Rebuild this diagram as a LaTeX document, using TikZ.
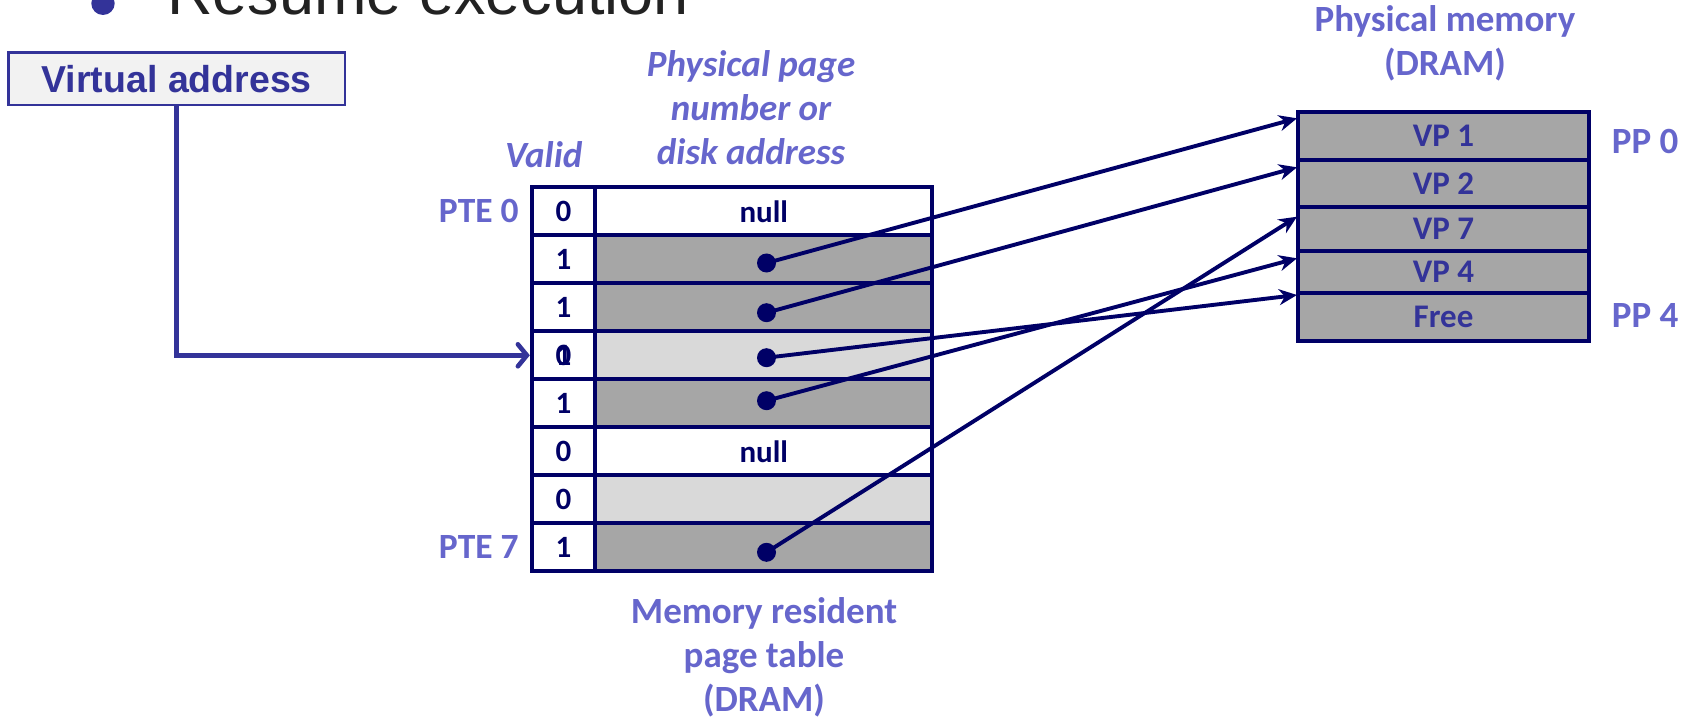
\documentclass[tikz,border=0pt]{standalone}
\usepackage{fontspec}
\setmainfont{Carlito}
\newfontfamily\arialfont{Liberation Sans}
\usetikzlibrary{arrows.meta,calc}

\definecolor{lbl}{RGB}{102,102,204}
\definecolor{vablue}{RGB}{51,51,153}
\definecolor{navy}{RGB}{0,0,102}
\definecolor{darkfill}{RGB}{166,166,166}
\definecolor{lightfill}{RGB}{217,217,217}
\definecolor{boxfill}{RGB}{242,242,242}
\definecolor{bodytext}{RGB}{34,34,34}

\begin{document}
\begin{tikzpicture}[x=1pt,y=-1pt,
  lbltext/.style={text=lbl,font=\fontsize{37}{44}\selectfont\bfseries,align=center,inner sep=0pt},
  lblit/.style={lbltext,font=\fontsize{37}{44}\selectfont\bfseries\itshape},
  cellbase/.style={draw=navy,line width=3.8pt,inner sep=0pt,minimum height=48pt,
    text=navy,font=\fontsize{31}{35}\selectfont\bfseries},
  validcell/.style={cellbase,fill=white,minimum width=63.5pt},
  pfncell/.style={cellbase,minimum width=336.9pt},
  memcell/.style={draw=navy,fill=darkfill,line width=3.8pt,inner sep=0pt,minimum width=291pt,
    text=vablue,font=\fontsize{33}{36}\selectfont\bfseries},
  ptrdot/.style={circle,fill=navy,inner sep=0pt,minimum size=19pt},
  ptr/.style={draw=navy,line width=3.9pt,-{Stealth[length=18pt,width=16pt]}},
  vaarrow/.style={draw=vablue,line width=4.6pt,-{Straight Barb[length=9pt,width=22pt,line cap=round]}}
]
\useasboundingbox (0,0) rectangle (1688,719);
\clip (0,0) rectangle (1688,719);

% slide bullet line (cut by the top edge)
\fill[vablue] (103,3.3) circle (11.7);
\node[anchor=base west,inner sep=0pt,text=bodytext,font=\arialfont\fontsize{63}{70}\selectfont]
  (resume) at (167,15) {Resume execution};

% virtual address box
\node[draw=vablue,fill=boxfill,line width=2.7pt,minimum width=336.5pt,minimum height=52.3pt,
  inner sep=0pt,text=vablue,font=\arialfont\fontsize{37.5}{40}\selectfont\bfseries]
  (va) at (176.75,78.85) {Virtual address};

% page table: valid bits
\node[validcell] (v0) at (563.5,211.3) {0};
\node[validcell] (v1) at (563.5,259.3) {1};
\node[validcell] (v2) at (563.5,307.3) {1};
\node[validcell] (v3) at (563.5,355.3) {0};
\node[text=navy,font=\fontsize{31}{35}\selectfont\bfseries,inner sep=0pt] (v3b) at (v3.center) {1};
\node[validcell] (v4) at (563.5,403.3) {1};
\node[validcell] (v5) at (563.5,451.3) {0};
\node[validcell] (v6) at (563.5,499.3) {0};
\node[validcell] (v7) at (563.5,547.3) {1};

% page table: physical page number or disk address
\node[pfncell,fill=white]     (p0) at (763.75,211.3) {null};
\node[pfncell,fill=darkfill]  (p1) at (763.75,259.3) {};
\node[pfncell,fill=darkfill]  (p2) at (763.75,307.3) {};
\node[pfncell,fill=lightfill] (p3) at (763.75,355.3) {};
\node[pfncell,fill=darkfill]  (p4) at (763.75,403.3) {};
\node[pfncell,fill=white]     (p5) at (763.75,451.3) {null};
\node[pfncell,fill=lightfill] (p6) at (763.75,499.3) {};
\node[pfncell,fill=darkfill]  (p7) at (763.75,547.3) {};

% pointer dots
\node[ptrdot] (d1) at (766.5,263) {};
\node[ptrdot] (d2) at (766.5,312.7) {};
\node[ptrdot] (d3) at (766.5,357.7) {};
\node[ptrdot] (d4) at (766.5,400.7) {};
\node[ptrdot] (d7) at (766.5,552.3) {};

% physical memory
\node[memcell,minimum height=48.3pt] (m0) at (1443.5,135.85) {VP 1};
\node[memcell,minimum height=47.3pt] (m1) at (1443.5,183.65) {VP 2};
\node[memcell,minimum height=43.4pt] (m2) at (1443.5,229) {VP 7};
\node[memcell,minimum height=42pt]   (m3) at (1443.5,271.7) {VP 4};
\node[memcell,minimum height=48pt]   (m4) at (1443.5,316.7) {Free};

% arrow targets on the left edge of physical memory
\coordinate (t0) at (1297,118.3);
\coordinate (t1) at (1297,167.3);
\coordinate (t2) at (1297,216.7);
\coordinate (t3) at (1297,258.3);
\coordinate (t4) at (1297,295);

\draw[ptr] (d1.center) -- (t0);
\draw[ptr] (d2.center) -- (t1);
\draw[ptr] (d7.center) -- (t2);
\draw[ptr] (d4.center) -- (t3);
\draw[ptr] (d3.center) -- (t4);

% virtual address into the page table
\draw[vaarrow] (va.south) |- (v3.west);

% labels
\node[lblit] (validlbl) at (543.7,155) {Valid};
\node[lblit] (pfnlbl) at (751,108) {Physical page\\number or\\disk address};
\node[lbltext,anchor=east,font=\fontsize{35.5}{44}\selectfont\bfseries] (pte0) at ([xshift=-11pt]v0.west) {PTE 0};
\node[lbltext,anchor=east,font=\fontsize{35.5}{44}\selectfont\bfseries] (pte7) at ([xshift=-11pt]v7.west) {PTE 7};
\node[lbltext] (ptlbl) at (764,657) {Memory resident\\page table\\(DRAM)};
\node[lbltext] (pmlbl) at (1445,43.3) {Physical memory\\(DRAM)};
\node[lbltext,anchor=west] (pp0) at (1611.7,141.7) {PP 0};
\node[lbltext,anchor=west] (pp4) at (1611.7,315) {PP 4};
\end{tikzpicture}
\end{document}
